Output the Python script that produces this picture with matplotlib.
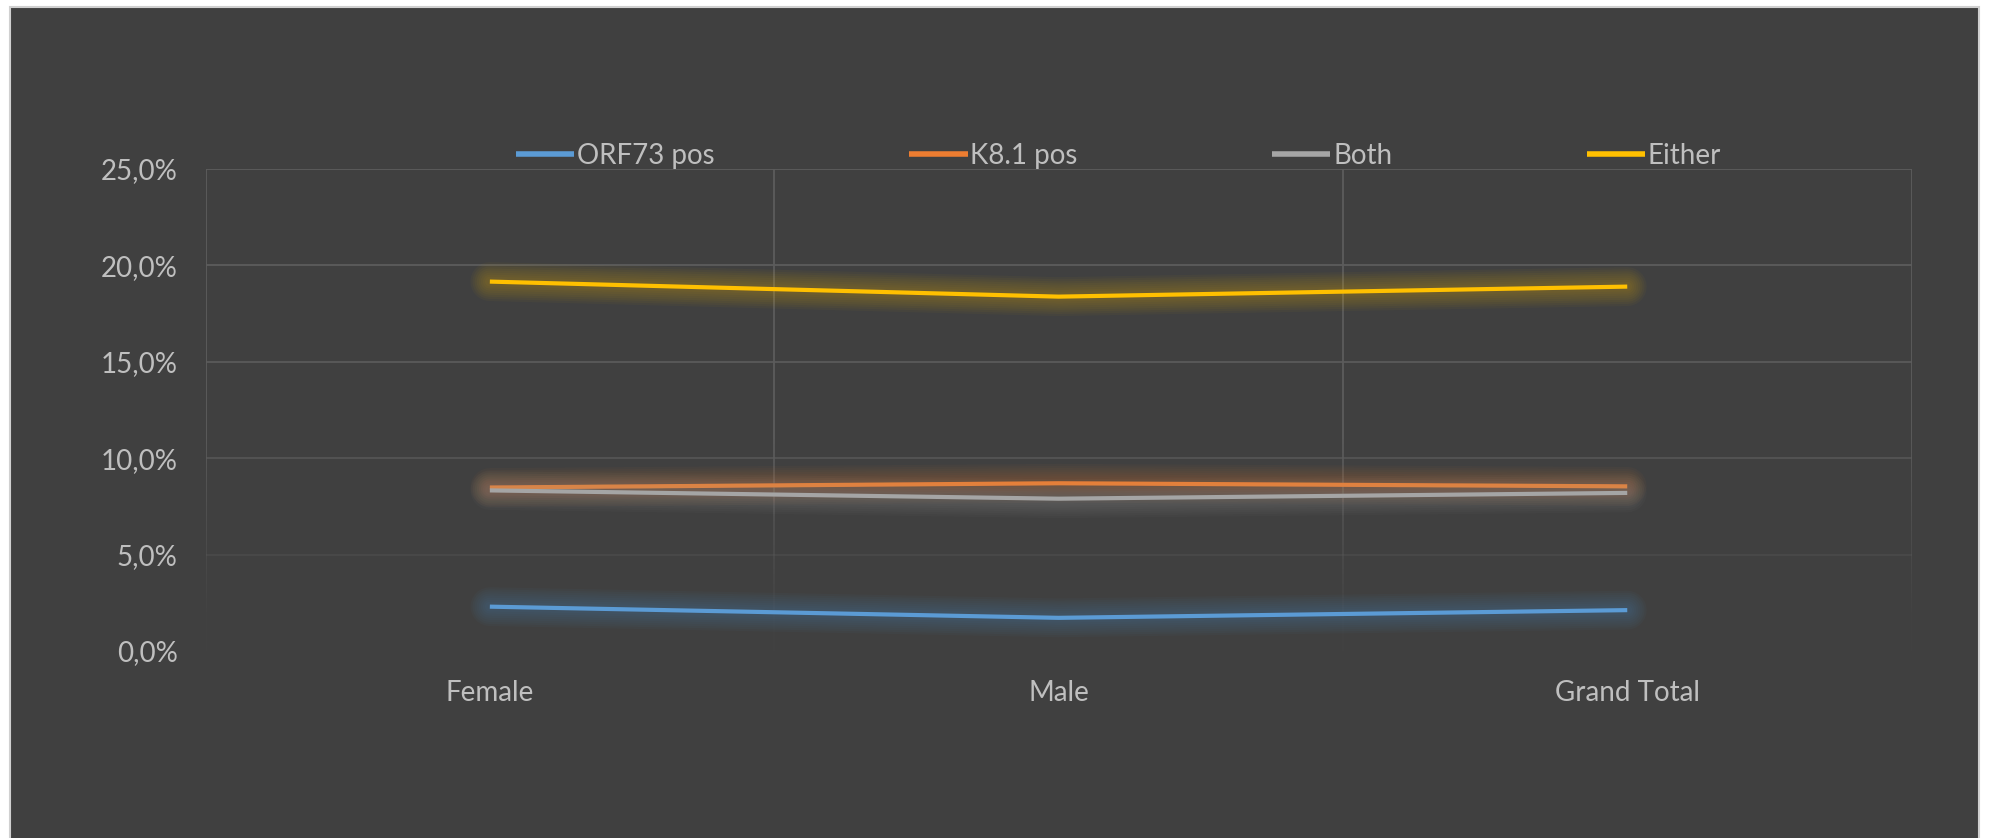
import numpy as np
import matplotlib
matplotlib.use("Agg")
import matplotlib.pyplot as plt
import matplotlib.patheffects as pe
from matplotlib.collections import LineCollection
from matplotlib.colors import to_rgba
from matplotlib.ticker import FuncFormatter

# seroprevalence by sex (%)
categories = ["Female", "Male", "Grand Total"]
orf73_pos = [2.3, 1.72, 2.12]
k81_pos = [8.48, 8.7, 8.54]
both = [8.33, 7.9, 8.2]
either = [19.16, 18.38, 18.9]

series_names = ["ORF73 pos", "K8.1 pos", "Both", "Either"]
series_colors = ["#5b9bd5", "#ed7d31", "#a5a5a5", "#ffc000"]

bg = "#404040"
text_col = "#bfbfbf"
grid_col = "#5c5c5c"

plt.rcParams["font.family"] = ["Lato", "DejaVu Sans"]

W, H = 1989, 838
fig = plt.figure(figsize=(W / 100, H / 100), dpi=100, facecolor="white")
fig.patches.append(plt.Rectangle((10 / W, -0.01), (1979 - 10) / W, 1.01 - 7 / H,
                                 transform=fig.transFigure, facecolor=bg,
                                 edgecolor="#d0d0d0", linewidth=1.5, zorder=-10))

ax = fig.add_axes([205.5 / W, 1 - 651 / H, (1911.6 - 205.5) / W, (651 - 169) / H])
ax.set_facecolor("none")
x = np.arange(len(categories))
ax.set_xlim(-0.5, len(categories) - 0.5)
ax.set_ylim(0, 25)

# horizontal gridlines, fading toward the bottom
for yv, a in zip([5, 10, 15, 20, 25], [0.35, 0.75, 0.95, 1.0, 1.0]):
    ax.axhline(yv, color=grid_col, lw=1.3, alpha=a, zorder=1)

# vertical gridlines (category boundaries), also fading downwards
ys = np.linspace(0, 25, 101)
for xv in np.arange(-0.5, len(categories), 1.0):
    segs = [[(xv, ys[i]), (xv, ys[i + 1])] for i in range(len(ys) - 1)]
    alphas = np.clip((ys[:-1] - 1) / 10, 0.05, 1)
    cols = [to_rgba(grid_col, a) for a in alphas]
    ax.add_collection(LineCollection(segs, colors=cols, linewidths=1.3, zorder=1))

for vals, name, c in zip([orf73_pos, k81_pos, both, either], series_names, series_colors):
    # soft glow: stacked translucent strokes with round ends
    glow = [pe.Stroke(linewidth=w, foreground=c, alpha=0.035, capstyle="round",
                      joinstyle="round") for w in range(28, 5, -3)]
    ax.plot(x, vals, color=c, lw=3, label=name, solid_capstyle="butt",
            solid_joinstyle="round", zorder=3, path_effects=glow + [pe.Normal()])

for s in ax.spines.values():
    s.set_visible(False)

ax.set_xticks(x)
ax.set_xticklabels(categories)
ax.set_yticks([0, 5, 10, 15, 20, 25])
ax.yaxis.set_major_formatter(FuncFormatter(lambda v, p: f"{v:.1f}%".replace(".", ",")))
ax.tick_params(axis="both", length=0, labelsize=20, labelcolor=text_col)
ax.tick_params(axis="y", pad=20)
ax.tick_params(axis="x", pad=21)

leg = ax.legend(ncol=4, loc="center left", bbox_to_anchor=(516 / W, 1 - 156 / H),
                bbox_transform=fig.transFigure, frameon=False, fontsize=20,
                labelcolor=text_col, handlelength=2.1, handletextpad=0.1,
                columnspacing=7.0, borderpad=0, borderaxespad=0)
for ln in leg.get_lines():
    ln.set_path_effects([])
    ln.set_linewidth(4)

fig.savefig("out.png", dpi=100, facecolor="white")
